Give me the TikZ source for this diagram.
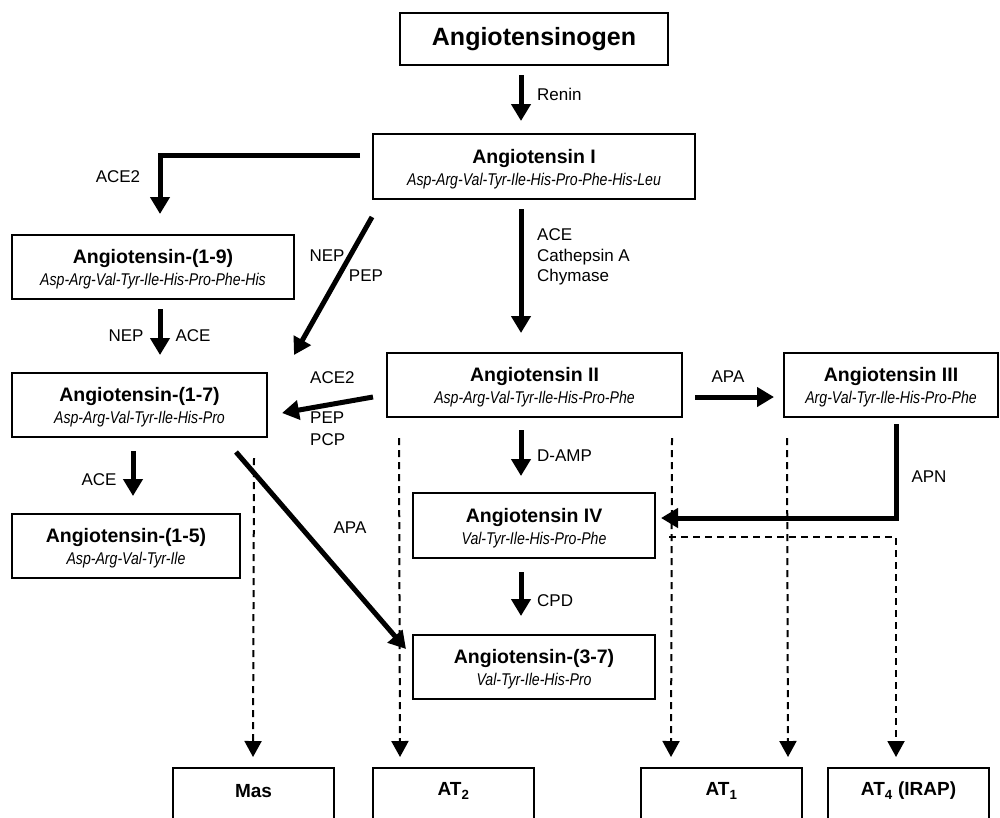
\documentclass[tikz,border=0pt]{standalone}
\usepackage{fontspec}
\setmainfont{Liberation Sans}
\newfontfamily\subfam{Liberation Sans}[FakeStretch=0.83]
\usetikzlibrary{arrows.meta}
\newcommand\ttlfont{\fontsize{19.5}{22}\selectfont\bfseries}
\newcommand\bigttlfont{\fontsize{25}{30}\selectfont\bfseries}
\newcommand\pepfont{\subfam\mdseries\itshape\fontsize{17}{22}\selectfont}
\newcommand\enzfont{\fontsize{17}{20.5}\selectfont}
\newcommand\tstrut{\rule{0pt}{19pt}}
\begin{document}
\begin{tikzpicture}[x=1pt,y=-1pt,
  box/.style={draw, line width=2pt, rectangle, inner sep=0pt, align=center, font=\ttlfont},
  recbox/.style={draw, line width=2pt, rectangle, inner sep=0pt, minimum width=161pt, minimum height=100pt},
  rectext/.style={inner sep=0pt, font=\fontsize{19}{22}\selectfont\bfseries},
  lab/.style={inner sep=0pt, font=\enzfont},
  bigarr/.style={line width=5pt, -{Triangle[length=17pt,width=19pt]}},
  dasharr/.style={line width=2pt, dash pattern=on 7pt off 5pt, -{Triangle[length=16pt,width=17pt]}}]
\useasboundingbox (0,0) rectangle (1000,817);
\clip (0,0) rectangle (1000,817);

% boxes
\node[box, minimum width=268pt, minimum height=52pt, font=\bigttlfont] (agen) at (534,39) {Angiotensinogen};
\node[box, minimum width=322pt, minimum height=65pt] (ang1) at (534,166.5) {\tstrut Angiotensin I\\{\pepfont Asp-Arg-Val-Tyr-Ile-His-Pro-Phe-His-Leu}};
\node[box, minimum width=282pt, minimum height=64pt] (a19) at (153,267) {\tstrut Angiotensin-(1-9)\\{\pepfont Asp-Arg-Val-Tyr-Ile-His-Pro-Phe-His}};
\node[box, minimum width=255pt, minimum height=64pt] (a17) at (139.5,405) {\tstrut Angiotensin-(1-7)\\{\pepfont Asp-Arg-Val-Tyr-Ile-His-Pro}};
\node[box, minimum width=295pt, minimum height=64pt] (ang2) at (534.5,385) {\tstrut Angiotensin II\\{\pepfont Asp-Arg-Val-Tyr-Ile-His-Pro-Phe}};
\node[box, minimum width=214pt, minimum height=64pt] (ang3) at (891,385) {\tstrut Angiotensin III\\{\pepfont Arg-Val-Tyr-Ile-His-Pro-Phe}};
\node[box, minimum width=228pt, minimum height=64pt] (a15) at (126,546) {\tstrut Angiotensin-(1-5)\\{\pepfont Asp-Arg-Val-Tyr-Ile}};
\node[box, minimum width=242pt, minimum height=65pt] (ang4) at (534,525.5) {\tstrut Angiotensin IV\\{\pepfont Val-Tyr-Ile-His-Pro-Phe}};
\node[box, minimum width=242pt, minimum height=64pt] (a37) at (534,667) {\tstrut Angiotensin-(3-7)\\{\pepfont Val-Tyr-Ile-His-Pro}};

% receptor boxes (cut by the bottom edge)
\node[recbox] (mas) at (253.5,818) {};
\node[recbox] (at2) at (453.5,818) {};
\node[recbox] (at1) at (721.5,818) {};
\node[recbox] (at4) at (908.5,818) {};
\node[rectext] (mast) at (253.5,791) {Mas};
\node[rectext] (at2t) at (453.5,791) {AT\textsubscript{2}};
\node[rectext] (at1t) at (721.5,791) {AT\textsubscript{1}};
\node[rectext] (at4t) at (908.5,791) {AT\textsubscript{4} (IRAP)};

% solid arrows
\draw[bigarr] ([xshift=-13pt,yshift=-9pt]agen.south) -- ([xshift=-13pt,yshift=12pt]ang1.north);
\draw[bigarr] ([xshift=-13pt,yshift=-9pt]ang1.south) -- ([xshift=-13.5pt,yshift=19pt]ang2.north);
\draw[bigarr] ([xshift=-13.5pt,yshift=-12pt]ang2.south) -- ([xshift=-13pt,yshift=16pt]ang4.north);
\draw[bigarr] ([xshift=-13pt,yshift=-13pt]ang4.south) -- ([xshift=-13pt,yshift=18pt]a37.north);
\draw[bigarr] ([xshift=-12pt,yshift=11.5pt]ang1.west) -| ([xshift=7pt,yshift=20pt]a19.north);
\draw[bigarr] ([yshift=-17pt]ang1.south west) -- ([xshift=26pt,yshift=17pt]a17.north east);
\draw[bigarr] ([xshift=7pt,yshift=-9pt]a19.south) -- ([xshift=20.5pt,yshift=17pt]a17.north);
\draw[bigarr] ([xshift=-13pt,yshift=-12pt]ang2.west) -- ([xshift=14pt,yshift=-8pt]a17.east);
\draw[bigarr] ([xshift=12pt,yshift=-12pt]ang2.east) -- ([xshift=-9pt,yshift=-12pt]ang3.west);
\draw[bigarr] ([xshift=-6.5pt,yshift=-13pt]a17.south) -- ([xshift=7pt,yshift=17pt]a15.north);
\draw[bigarr] ([xshift=-32pt,yshift=-14pt]a17.south east) -- ([xshift=-6pt,yshift=-15pt]a37.north west);
\draw[bigarr] ([xshift=5pt,yshift=-6pt]ang3.south) |- ([xshift=5pt,yshift=7.5pt]ang4.east);

% dashed arrows
\draw[dasharr] ([xshift=-14pt,yshift=-20pt]a17.south east) -- ([xshift=-0.5pt,yshift=10pt]mas.north);
\draw[dasharr] ([xshift=13pt,yshift=-20pt]ang2.south west) -- ([xshift=-53.5pt,yshift=10pt]at2.north);
\draw[dasharr] ([xshift=-11pt,yshift=-20pt]ang2.south east) -- ([xshift=-50.5pt,yshift=10pt]at1.north);
\draw[dasharr] ([xshift=4pt,yshift=-20pt]ang3.south west) -- ([xshift=66.5pt,yshift=10pt]at1.north);
\draw[dasharr] ([xshift=13pt,yshift=-11.5pt]ang4.east) -| ([xshift=-12.5pt,yshift=10pt]at4.north);

% enzyme labels
\node[lab, anchor=base west] (renin) at (537,100) {Renin};
\node[lab, anchor=north west, align=left] (acecc) at (537,228.5) {ACE\\Cathepsin A\\Chymase};
\node[lab, anchor=base] (ace2a) at (118,182) {ACE2};
\node[lab, anchor=base] (nepa) at (327,261) {NEP};
\node[lab, anchor=base] (pepa) at (366,281) {PEP};
\node[lab, anchor=base] (nepb) at (126,341) {NEP};
\node[lab, anchor=base] (aceb) at (193,341) {ACE};
\node[lab, anchor=base west] (ace2b) at (310,383) {ACE2};
\node[lab, anchor=base west] (pepb) at (310,423) {PEP};
\node[lab, anchor=base west] (pcpb) at (310,445) {PCP};
\node[lab, anchor=base] (apaa) at (728,382) {APA};
\node[lab, anchor=base west] (damp) at (537,461) {D-AMP};
\node[lab, anchor=base] (apn) at (929,482) {APN};
\node[lab, anchor=base] (acec) at (99,485) {ACE};
\node[lab, anchor=base] (apab) at (350,533) {APA};
\node[lab, anchor=base west] (cpd) at (537,606) {CPD};
\end{tikzpicture}
\end{document}
